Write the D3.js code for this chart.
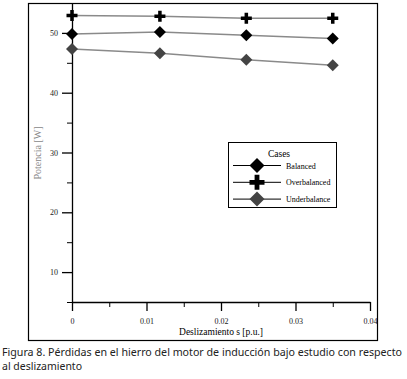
<!DOCTYPE html>
<html>
<head>
<meta charset="utf-8">
<script src="https://cdn.jsdelivr.net/npm/d3@7"></script>
<style>
  body { margin: 0; background: #fff; }
  svg { display: block; }
</style>
</head>
<body>
<div id="chart"></div>
<script>
// slip values (x) and iron losses per case
const slip = [0, 0.0118, 0.0234, 0.035];
const balanced = [49.8, 50.15, 49.6, 49.05];
const overbalanced = [52.9, 52.8, 52.45, 52.45];
const underbalance = [47.3, 46.6, 45.5, 44.6];
const caseNames = ['Balanced', 'Overbalanced', 'Underbalance'];
const xTicks = [0, 0.01, 0.02, 0.03, 0.04];
const xMinor = [0.005, 0.015, 0.025, 0.035];
const yTicks = [10, 20, 30, 40, 50];
const yMinor = [5, 15, 25, 35, 45];

const W = 407, H = 379;
const svg = d3.select('#chart').append('svg')
    .attr('width', W).attr('height', H);

const x = d3.scaleLinear().domain([0, 0.04]).range([72, 370]);
const y = d3.scaleLinear().domain([5, 55]).range([302, 3]);

// outer frame
svg.append('rect')
    .attr('x', 28.5).attr('y', 3.5)
    .attr('width', 349).attr('height', 337)
    .attr('fill', 'none').attr('stroke', '#000').attr('stroke-width', 1.2);

const serif = '"Liberation Serif", "DejaVu Serif", serif';

// minor ticks first
svg.append('g')
    .attr('transform', 'translate(0,' + y(5) + ')')
    .call(d3.axisBottom(x).tickValues(xMinor).tickSize(5).tickFormat(''))
    .call(g => g.select('.domain').remove());
svg.append('g')
    .attr('transform', 'translate(' + x(0) + ',0)')
    .call(d3.axisLeft(y).tickValues(yMinor).tickSize(5).tickFormat(''))
    .call(g => g.select('.domain').remove());

const xAxis = svg.append('g')
    .attr('transform', 'translate(0,' + y(5) + ')')
    .call(d3.axisBottom(x).tickValues(xTicks).tickSize(9).tickPadding(7)
        .tickSizeOuter(0).tickFormat(d => d === 0 ? '0' : d3.format('.2f')(d)));
const yAxis = svg.append('g')
    .attr('transform', 'translate(' + x(0) + ',0)')
    .call(d3.axisLeft(y).tickValues(yTicks).tickSize(10).tickPadding(4).tickSizeOuter(0));

[xAxis, yAxis].forEach(g => {
    g.selectAll('line, path').attr('stroke', '#000').attr('stroke-width', 1.3);
    g.selectAll('text').attr('font-family', serif).attr('font-size', 8).attr('fill', '#222');
});

// axis titles
svg.append('text')
    .attr('x', 221).attr('y', 335)
    .attr('text-anchor', 'middle')
    .attr('font-family', serif).attr('font-size', 9.5)
    .text('Deslizamiento s [p.u.]');

svg.append('text')
    .attr('transform', 'translate(41,153) rotate(-90)')
    .attr('text-anchor', 'middle')
    .attr('font-family', serif).attr('font-size', 10).attr('fill', '#888')
    .text('Potencia [W]');

// series
const series = [
    { name: caseNames[0], values: balanced, shape: 'diamond', color: '#000' },
    { name: caseNames[1], values: overbalanced, shape: 'plus', color: '#000' },
    { name: caseNames[2], values: underbalance, shape: 'diamond', color: '#444' }
];

const line = d3.line().x((d, i) => x(slip[i])).y(d => y(d));

function marker(g, shape, color, s) {
    if (shape === 'diamond') {
        g.append('path')
            .attr('d', 'M0,' + (-s) + 'L' + s + ',0L0,' + s + 'L' + (-s) + ',0Z')
            .attr('fill', color);
    } else {
        const t = s * 0.32;
        g.append('path')
            .attr('d', 'M' + (-t) + ',' + (-s) + 'H' + t + 'V' + (-t) + 'H' + s + 'V' + t +
                'H' + t + 'V' + s + 'H' + (-t) + 'V' + t + 'H' + (-s) + 'V' + (-t) +
                'H' + (-t) + 'Z')
            .attr('fill', color);
    }
}

series.forEach(sr => {
    svg.append('path')
        .datum(sr.values)
        .attr('d', line)
        .attr('fill', 'none')
        .attr('stroke', '#8a8a8a')
        .attr('stroke-width', 1.5);
    sr.values.forEach((v, i) => {
        const g = svg.append('g').attr('transform', 'translate(' + x(slip[i]) + ',' + y(v) + ')');
        marker(g, sr.shape, sr.color, sr.shape === 'plus' ? 5.5 : 6);
    });
});

// legend
const lg = svg.append('g');
lg.append('rect')
    .attr('x', 228.5).attr('y', 142.5).attr('width', 108).attr('height', 65)
    .attr('fill', '#fff').attr('stroke', '#000').attr('stroke-width', 1);
lg.append('text')
    .attr('x', 279).attr('y', 157)
    .attr('text-anchor', 'middle')
    .attr('font-family', serif).attr('font-size', 9.5)
    .text('Cases');
series.forEach((sr, i) => {
    const ly = 165.5 + i * 16.8;
    lg.append('line')
        .attr('x1', 233).attr('x2', 281).attr('y1', ly).attr('y2', ly)
        .attr('stroke', '#000').attr('stroke-width', 1);
    const g = lg.append('g').attr('transform', 'translate(257,' + ly + ')');
    marker(g, sr.shape, sr.color, 7.5);
    lg.append('text')
        .attr('x', 286).attr('y', ly + 3)
        .attr('font-family', serif).attr('font-size', 8).attr('fill', '#000')
        .text(sr.name);
});

// caption
const sans = '"Noto Sans", "DejaVu Sans", sans-serif';
svg.append('text')
    .attr('x', 2).attr('y', 356)
    .attr('font-family', sans).attr('font-size', 10.5).attr('fill', '#222')
    .attr('textLength', 400).attr('lengthAdjust', 'spacingAndGlyphs')
    .text('Figura 8. Pérdidas en el hierro del motor de inducción bajo estudio con respecto');
svg.append('text')
    .attr('x', 2).attr('y', 370)
    .attr('font-family', sans).attr('font-size', 10.5).attr('fill', '#222')
    .attr('textLength', 80).attr('lengthAdjust', 'spacingAndGlyphs')
    .text('al deslizamiento');
</script>
</body>
</html>
